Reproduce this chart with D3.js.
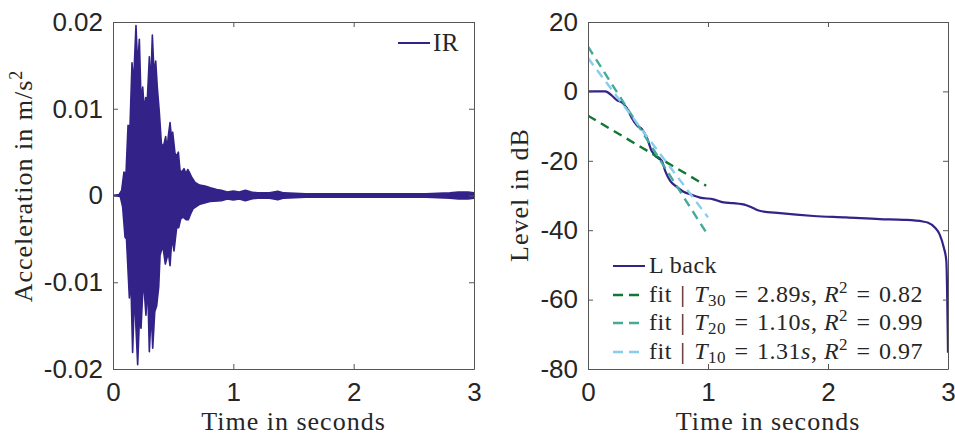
<!DOCTYPE html>
<html>
<head>
<meta charset="utf-8">
<script src="https://cdn.jsdelivr.net/npm/d3@7"></script>
<style>
  body { margin: 0; background: #fff; }
  svg { display: block; }
</style>
</head>
<body>
<svg id="chart" width="955" height="436"></svg>
<script>
// ---- data ----
var timeTicks = [0, 1, 2, 3];
var irTicks = [-0.02, -0.01, 0, 0.01, 0.02];
var irTickLabels = ["-0.02", "-0.01", "0", "0.01", "0.02"];
var dbTicks = [-80, -60, -40, -20, 0, 20];
var dbTickLabels = ["-80", "-60", "-40", "-20", "0", "20"];

// impulse response, upper envelope (peaks and dips between them)
var irUpT = [0, 0.05, 0.072, 0.091, 0.108, 0.125, 0.141, 0.158, 0.169, 0.177, 0.191, 0.205, 0.219, 0.233,
  0.247, 0.26, 0.272, 0.285, 0.302, 0.313, 0.327, 0.341, 0.355, 0.368, 0.385, 0.402, 0.418, 0.438, 0.449,
  0.46, 0.474, 0.488, 0.496, 0.515, 0.529, 0.543, 0.557, 0.571, 0.59, 0.607, 0.621, 0.634, 0.654, 0.682,
  0.72, 0.765, 0.81, 0.862, 0.9, 0.95, 1.0, 1.05, 1.1, 1.15, 1.2, 1.3, 1.37, 1.42, 1.6, 1.8, 2.0, 2.3,
  2.6, 2.8, 2.87, 2.95, 3.0];
var irUpV = [0, 0.0001, 0.0006, 0.0027, 0.0025, 0.0081, 0.0079, 0.0153, 0.0129, 0.015, 0.0196, 0.0149, 0.018, 0.011,
  0.0125, 0.0098, 0.0113, 0.011, 0.016, 0.0125, 0.0185, 0.0141, 0.0155, 0.0125, 0.0096, 0.006, 0.0056, 0.0068, 0.0052,
  0.0069, 0.0084, 0.0064, 0.0073, 0.0049, 0.0045, 0.005, 0.0029, 0.0027, 0.0031, 0.0025, 0.003, 0.0027, 0.0021, 0.0015,
  0.0012, 0.0011, 0.0009, 0.0007, 0.0006, 0.0004, 0.0005, 0.0004, 0.0006, 0.0004, 0.0003, 0.0003, 0.0005, 0.0003,
  0.0002, 0.0002, 0.0002, 0.0002, 0.0002, 0.0003, 0.0004, 0.0004, 0.0003];
// impulse response, lower envelope
var irLoT = [0, 0.06, 0.08, 0.1, 0.112, 0.136, 0.148, 0.163, 0.18, 0.191, 0.205, 0.219, 0.233, 0.247, 0.26,
  0.274, 0.288, 0.302, 0.318, 0.33, 0.347, 0.363, 0.38, 0.391, 0.405, 0.418, 0.435, 0.46, 0.474, 0.49, 0.507,
  0.529, 0.546, 0.563, 0.584, 0.607, 0.626, 0.646, 0.667, 0.723, 0.806, 0.9, 0.95, 1.0, 1.05, 1.1, 1.15, 1.2,
  1.3, 1.37, 1.42, 1.6, 1.8, 2.0, 2.3, 2.6, 2.8, 2.87, 2.95, 3.0];
var irLoV = [0, -0.0001, -0.0013, -0.0048, -0.005, -0.0118, -0.0095, -0.0181, -0.0109, -0.0153, -0.0195, -0.0144,
  -0.0153, -0.0111, -0.0111, -0.0138, -0.0101, -0.0180, -0.0134, -0.0176, -0.0134, -0.0127, -0.0105, -0.0069,
  -0.0062, -0.0062, -0.0079, -0.0066, -0.0081, -0.0048, -0.0064, -0.0037, -0.0037, -0.0027, -0.0025, -0.0028,
  -0.0028, -0.0021, -0.0015, -0.001, -0.0007, -0.0006, -0.0004, -0.0005, -0.0004, -0.0006, -0.0004, -0.0003,
  -0.0003, -0.0005, -0.0003, -0.0002, -0.0002, -0.0002, -0.0002, -0.0002, -0.0003, -0.0004, -0.0004, -0.0003];

// energy decay curve "L back"
var edcT = [0, 0.144, 0.2, 0.24, 0.283, 0.324, 0.366, 0.41, 0.45, 0.49, 0.53, 0.574, 0.615, 0.643, 0.685,
  0.74, 0.796, 0.865, 0.934, 1.045, 1.13, 1.21, 1.32, 1.38, 1.43, 1.6, 1.88, 2.15, 2.43, 2.63, 2.79, 2.83,
  2.89, 2.93, 2.965, 2.986, 3.0];
var edcDb = [0, 0, -1.25, -2.5, -3.2, -4.8, -7.7, -9.9, -10.9, -13.3, -17.1, -19, -20, -22.9, -25.8,
  -27.5, -28.9, -29.8, -30.6, -31.1, -32, -32.2, -32.8, -33.7, -34.4, -35.1, -35.9, -36.3, -36.8, -37, -37.5, -37.8,
  -39.2, -41.2, -45, -48.8, -75.3];

// linear fits
var fitSub = ["30", "20", "10"];
var fitRT = ["2.89", "1.10", "1.31"];
var fitR2 = ["0.82", "0.99", "0.97"];
var fitT0 = [0, 0, 0];
var fitDb0 = [-7.0, 12.9, 9.6];
var fitT1 = [0.985, 0.995, 1.0];
var fitDb1 = [-27.2, -41.2, -36.3];
var fitColors = ["#117733", "#44AA99", "#88CCEE"];

var indigo = "#332288";
var axisColor = "#262626";
var sansFont = "'Liberation Sans', Arial, sans-serif";
var serifFont = "'Liberation Serif', 'Times New Roman', serif";

var svg = d3.select("#chart");

// ---- scales ----
var xL = d3.scaleLinear().domain([0, 3]).range([113, 474]);
var yL = d3.scaleLinear().domain([-0.02, 0.02]).range([369, 22]);
var xR = d3.scaleLinear().domain([0, 3]).range([588, 948]);
var yR = d3.scaleLinear().domain([-80, 20]).range([369, 22]);

function drawFrame(x, y, yTickVals, yLabels) {
    var g = svg.append("g");
    var y0 = y.range()[0], y1 = y.range()[1];
    var x0 = x.range()[0], x1 = x.range()[1];
    g.append("g").attr("transform", "translate(0," + y0 + ")")
        .call(d3.axisBottom(x).tickValues(timeTicks).tickSizeInner(-5).tickSizeOuter(0)
            .tickPadding(14).tickFormat(d3.format("d")));
    g.append("g").attr("transform", "translate(0," + y1 + ")")
        .call(d3.axisTop(x).tickValues(timeTicks).tickSizeInner(-5).tickSizeOuter(0).tickFormat(""));
    g.append("g").attr("transform", "translate(" + x0 + ",0)")
        .call(d3.axisLeft(y).tickValues(yTickVals).tickSizeInner(-5).tickSizeOuter(0)
            .tickPadding(10).tickFormat(function (d, i) { return yLabels[i]; }));
    g.append("g").attr("transform", "translate(" + x1 + ",0)")
        .call(d3.axisRight(y).tickValues(yTickVals).tickSizeInner(-5).tickSizeOuter(0).tickFormat(""));
    g.selectAll(".domain").attr("stroke", "#555").attr("stroke-width", 1);
    g.selectAll(".tick line").attr("stroke", "#555").attr("stroke-width", 1);
    g.selectAll(".tick text").attr("fill", axisColor)
        .style("font-family", sansFont).style("font-size", "26px");
    return g;
}

// ---- left: impulse response ----
svg.append("clipPath").attr("id", "clipL").append("rect")
    .attr("x", 113).attr("y", 22).attr("width", 361).attr("height", 347);

var irUp = irUpT.map(function (t, i) { return [t, irUpV[i]]; });
var irLo = irLoT.map(function (t, i) { return [t, irLoV[i]]; });
var irArea = d3.area().x(function (d) { return xL(d[0]); })
    .y0(yL(0)).y1(function (d) { return yL(d[1]); });

var irG = svg.append("g").attr("clip-path", "url(#clipL)");
[irUp, irLo].forEach(function (half) {
    irG.append("path").datum(half).attr("d", irArea)
        .attr("fill", indigo).attr("stroke", indigo)
        .attr("stroke-width", 1.6).attr("stroke-linejoin", "round");
});

drawFrame(xL, yL, irTicks, irTickLabels);

// legend IR
svg.append("line").attr("x1", 398).attr("x2", 430).attr("y1", 43).attr("y2", 43)
    .attr("stroke", indigo).attr("stroke-width", 2);
svg.append("text").attr("x", 433).attr("y", 51).text("IR")
    .style("font-family", serifFont).style("font-size", "25px").attr("fill", axisColor)
    .style("letter-spacing", "0.5px");

// axis labels left
svg.append("text").attr("x", 293.5).attr("y", 430).attr("text-anchor", "middle")
    .text("Time in seconds")
    .style("font-family", serifFont).style("font-size", "26px").style("letter-spacing", "1px")
    .attr("fill", axisColor);
var yLab = svg.append("text").attr("transform", "translate(32,186) rotate(-90)")
    .attr("text-anchor", "middle")
    .style("font-family", serifFont).style("font-size", "26px").style("letter-spacing", "1px")
    .attr("fill", axisColor);
yLab.append("tspan").text("Acceleration in m/s");
yLab.append("tspan").attr("dy", -10).style("font-size", "18px").text("2");

// ---- right: decay curve ----
svg.append("clipPath").attr("id", "clipR").append("rect")
    .attr("x", 588).attr("y", 22).attr("width", 360).attr("height", 347);

var rG = svg.append("g").attr("clip-path", "url(#clipR)");
var edcLine = d3.line().x(function (d) { return xR(d[0]); }).y(function (d) { return yR(d[1]); })
    .curve(d3.curveMonotoneX);
rG.append("path").datum(edcT.map(function (t, i) { return [t, edcDb[i]]; }))
    .attr("d", edcLine).attr("fill", "none").attr("stroke", indigo).attr("stroke-width", 2.2);

var straight = d3.line().x(function (d) { return xR(d[0]); }).y(function (d) { return yR(d[1]); });
fitSub.forEach(function (s, i) {
    rG.append("path").datum([[fitT0[i], fitDb0[i]], [fitT1[i], fitDb1[i]]])
        .attr("d", straight).attr("fill", "none").attr("stroke", fitColors[i])
        .attr("stroke-width", 2.4).attr("stroke-dasharray", "9,6");
});

drawFrame(xR, yR, dbTicks, dbTickLabels);

svg.append("text").attr("x", 768).attr("y", 430).attr("text-anchor", "middle")
    .text("Time in seconds")
    .style("font-family", serifFont).style("font-size", "26px").style("letter-spacing", "1px")
    .attr("fill", axisColor);
svg.append("text").attr("transform", "translate(528,195) rotate(-90)")
    .attr("text-anchor", "middle").text("Level in dB")
    .style("font-family", serifFont).style("font-size", "26px").style("letter-spacing", "1px")
    .attr("fill", axisColor);

// legend right
var legRows = [266, 295, 323, 352];
var eq = "\u2004=\u2004";
var lg = svg.append("g").style("font-family", serifFont).style("font-size", "24px")
    .style("letter-spacing", "0.5px").attr("fill", axisColor);
lg.append("line").attr("x1", 613).attr("x2", 645).attr("y1", legRows[0]).attr("y2", legRows[0])
    .attr("stroke", indigo).attr("stroke-width", 2);
lg.append("text").attr("x", 649).attr("y", legRows[0] + 7).text("L back");
fitSub.forEach(function (s, i) {
    var yy = legRows[i + 1];
    lg.append("line").attr("x1", 613).attr("x2", 645).attr("y1", yy).attr("y2", yy)
        .attr("stroke", fitColors[i]).attr("stroke-width", 2.4).attr("stroke-dasharray", "10,6");
    var t = lg.append("text").attr("x", 649).attr("y", yy + 7);
    t.append("tspan").text("fit\u2004|\u2004");
    t.append("tspan").style("font-style", "italic").text("T");
    t.append("tspan").attr("dy", 4).style("font-size", "17px").text(s);
    t.append("tspan").attr("dy", -4).text(eq + fitRT[i]);
    t.append("tspan").style("font-style", "italic").text("s");
    t.append("tspan").text(", ");
    t.append("tspan").style("font-style", "italic").text("R");
    t.append("tspan").attr("dy", -9).style("font-size", "17px").text("2");
    t.append("tspan").attr("dy", 9).text(eq + fitR2[i]);
});
</script>
</body>
</html>
